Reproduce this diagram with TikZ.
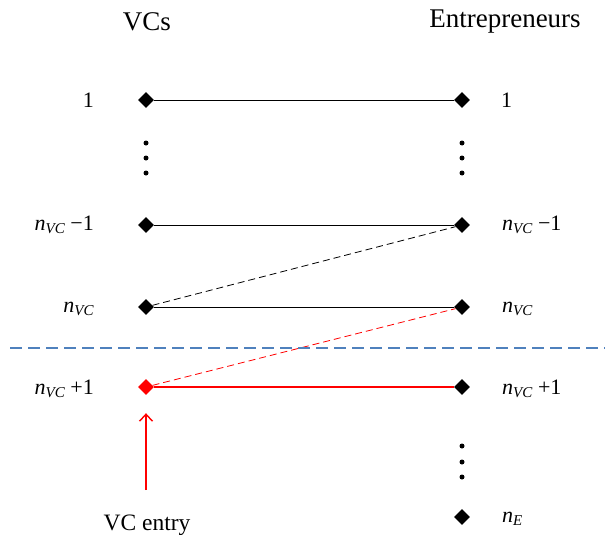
\documentclass[tikz,border=0pt]{standalone}
\usepackage{fontspec}
\setmainfont{Liberation Serif}
\usepackage{tikz}
\usetikzlibrary{arrows.meta,positioning,shapes.geometric}
\definecolor{sepblue}{RGB}{79,129,189}
\newcommand{\nsb}[1]{\textit{n}\raisebox{-0.35ex}{\fontsize{15}{17}\selectfont\textit{#1}}}

\begin{document}
\begin{tikzpicture}[x=1pt, y=-1pt,
  agent/.style={diamond, fill=black, inner sep=0pt, minimum size=16pt},
  lbl/.style={font=\fontsize{22}{26}\selectfont, inner sep=0pt},
  head/.style={font=\fontsize{27}{32}\selectfont, inner sep=0pt},
  tie/.style={line width=0.8pt},
  dsh/.style={dash pattern=on 7pt off 4pt},
  arr/.style={-{Straight Barb[length=7pt, width=13pt]}, line width=1.4pt, red},
]
  \useasboundingbox (0,0) rectangle (605,535);

  % headers
  \node[head] (vchead) at (147,22) {VCs};
  \node[head] (ehead) at (505,22) {Entrepreneurs};

  % VCs
  \node[agent] (vc1) at (146,100) {};
  \node[agent] (vcm) at (146,225) {};
  \node[agent] (vcn) at (146,307) {};
  \node[agent, fill=red] (vcp) at (146,387) {};

  % Entrepreneurs
  \node[agent] (e1) at (462,100) {};
  \node[agent] (em) at (462,225) {};
  \node[agent] (en) at (462,307) {};
  \node[agent] (ep) at (462,387) {};
  \node[agent] (eE) at (462,517) {};

  % labels
  \node[lbl, anchor=east] (l1) at (94,100) {1};
  \node[lbl, anchor=east] (lm) at (94,225) {\nsb{VC} −1};
  \node[lbl, anchor=east] (ln) at (94,309) {\nsb{VC}};
  \node[lbl, anchor=east] (lp) at (94,389) {\nsb{VC} +1};
  \node[lbl, anchor=west] (r1) at (501,100) {1};
  \node[lbl, anchor=west] (rm) at (502,225) {\nsb{VC} −1};
  \node[lbl, anchor=west] (rn) at (502,309) {\nsb{VC}};
  \node[lbl, anchor=west] (rp) at (502,389) {\nsb{VC} +1};
  \node[lbl, anchor=west] (rE) at (502,519) {\nsb{E}};

  % dots
  \foreach \y in {143,158,173} {
    \fill (146,\y) circle (2.5pt);
    \fill (462,\y) circle (2.5pt);
  }
  \foreach \y in {446,462,477}
    \fill (462,\y) circle (2.5pt);

  % matches
  \draw[tie] (vc1) -- (e1);
  \draw[tie] (vcm) -- (em);
  \draw[tie] (vcn) -- (en);
  \draw[tie, dsh] (vcn) -- (em);
  \draw[tie, red, dsh] (vcp) -- (en);
  \draw[line width=1.6pt, red] (vcp) -- (ep);

  % separator
  \draw[sepblue, line width=2.6pt, dash pattern=on 12pt off 6pt] (10,348) -- (605,348);

  % entry
  \coordinate (entry) at (146,490);
  \draw[arr, shorten >=18pt] (entry) -- (vcp.south);
  \node[head, font=\fontsize{23.5}{28}\selectfont] (entrytxt) at (147,525) {VC entry};
\end{tikzpicture}
\end{document}
